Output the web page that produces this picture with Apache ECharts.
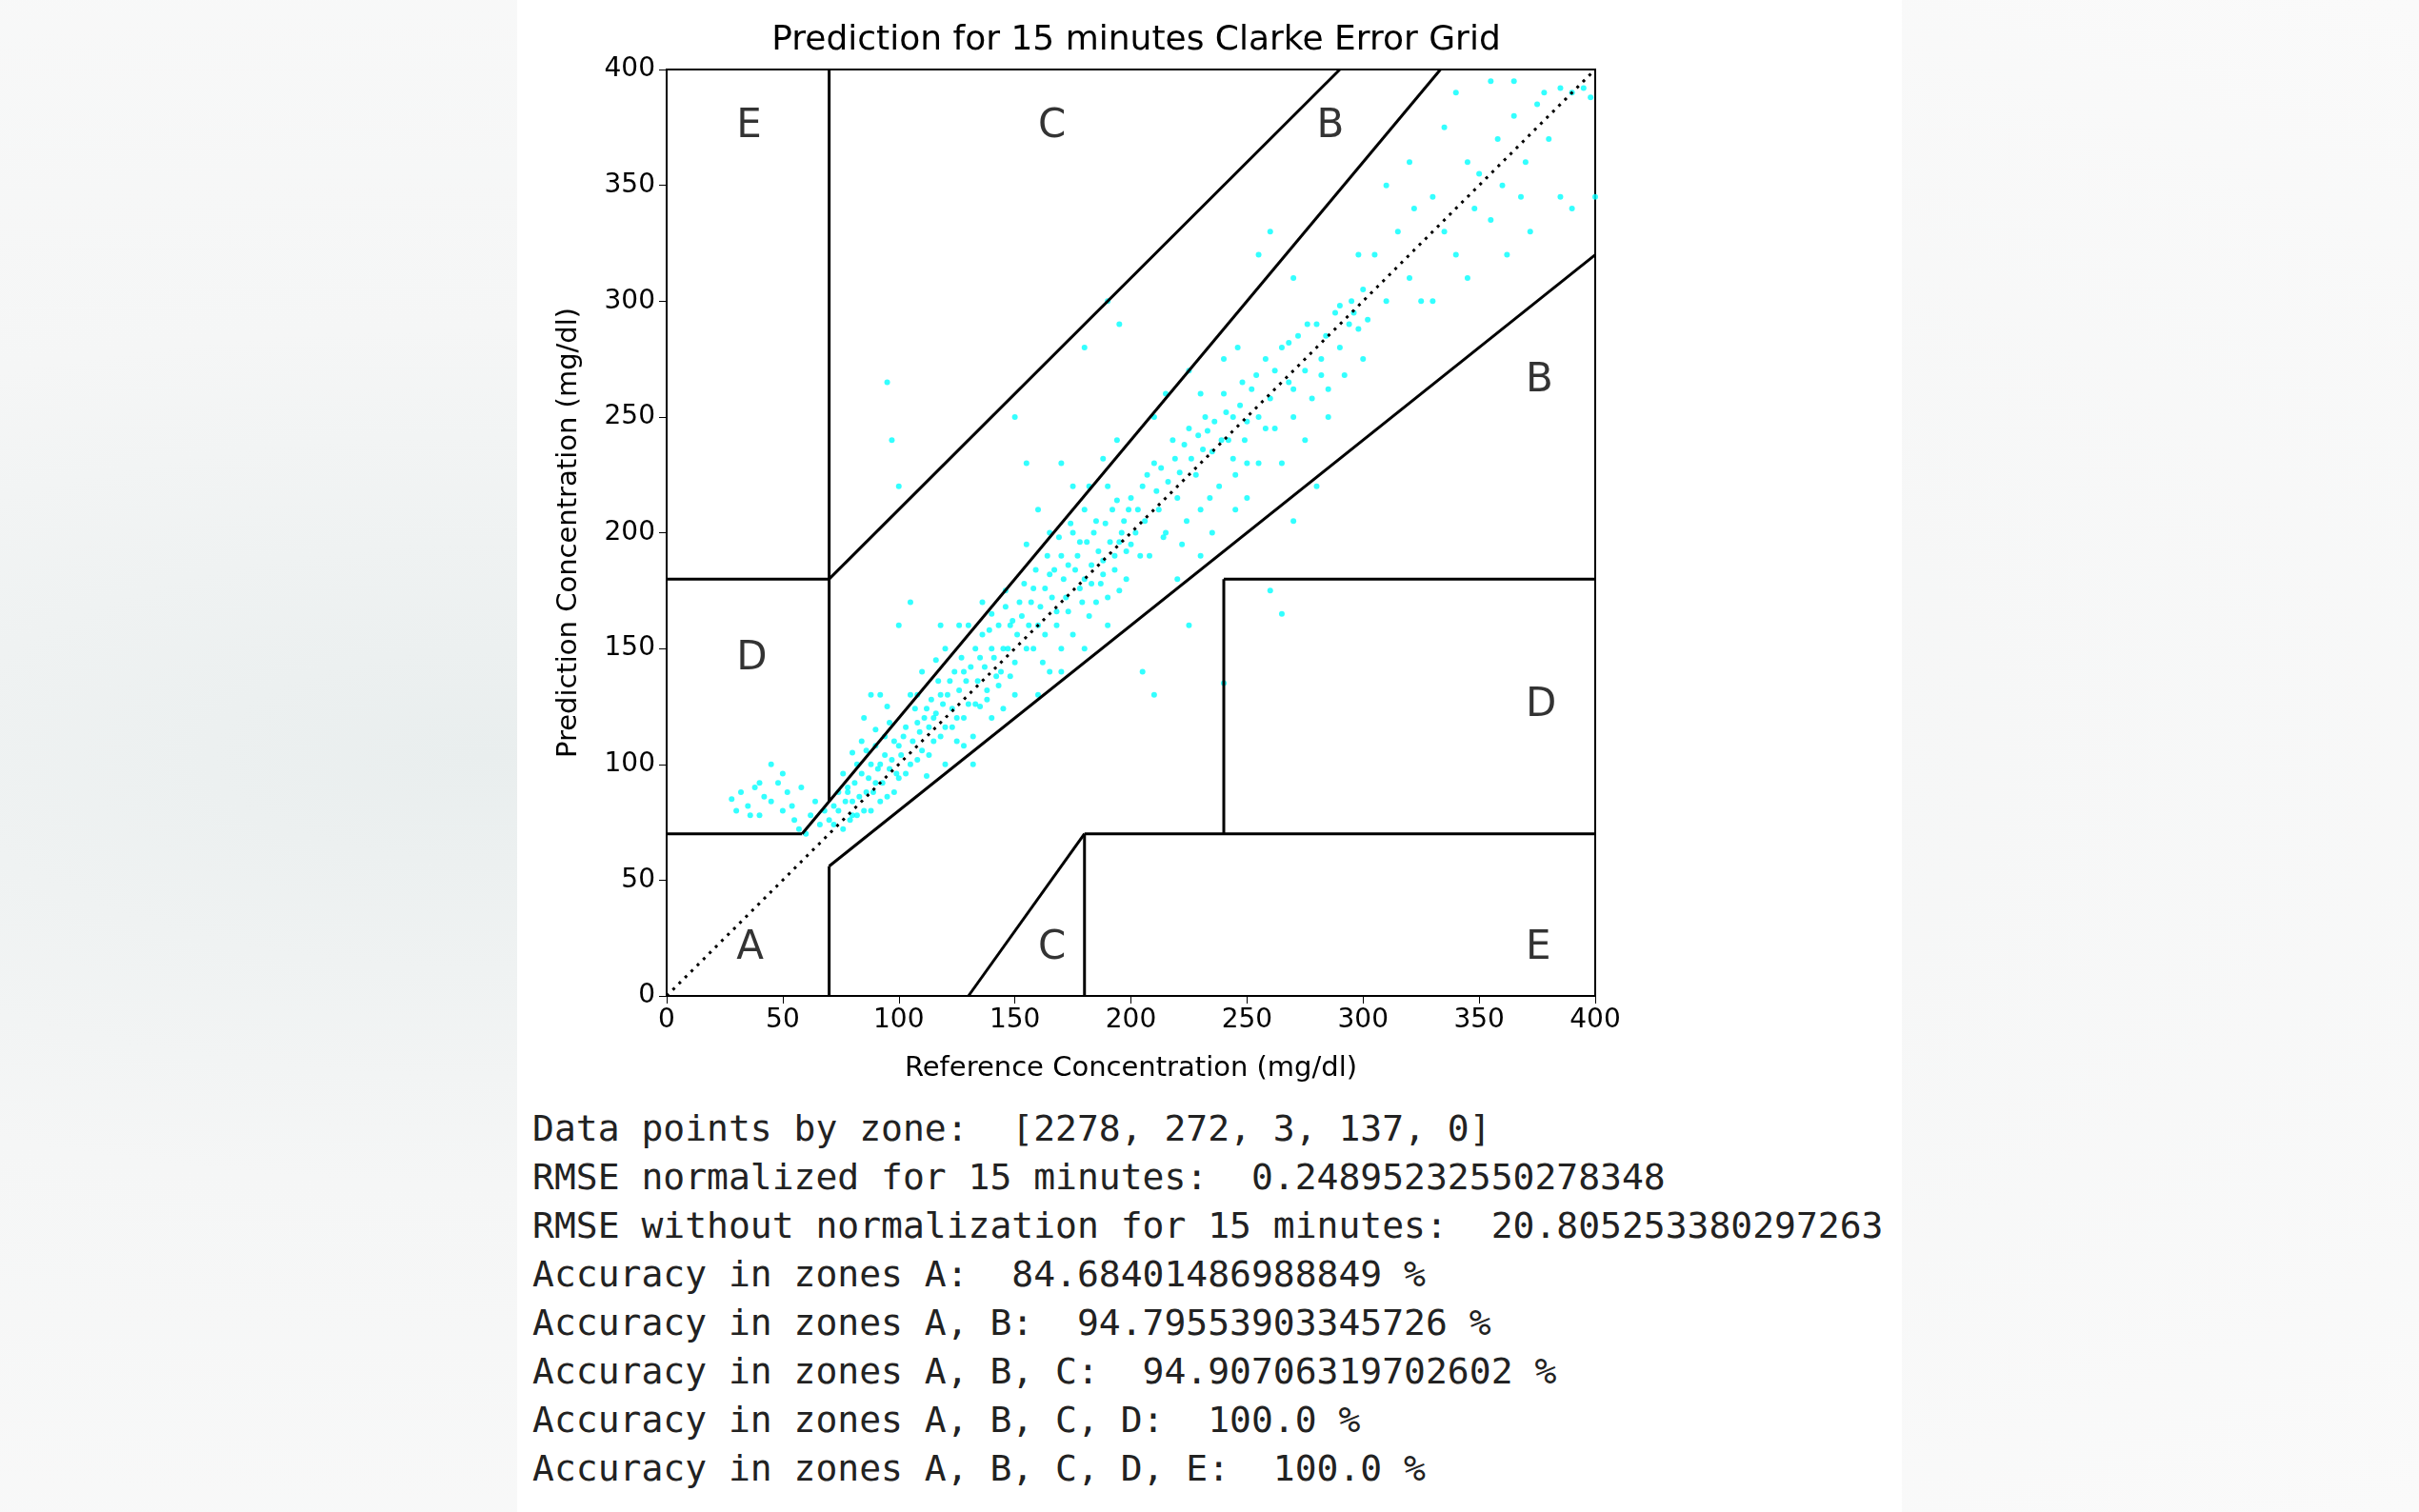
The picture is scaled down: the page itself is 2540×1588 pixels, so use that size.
<!DOCTYPE html>
<html>
<head>
<meta charset="utf-8">
<script src="https://cdn.jsdelivr.net/npm/echarts@6/dist/echarts.min.js"></script>
<style>
body{margin:0;width:2540px;height:1588px;background:radial-gradient(ellipse at 20% 50%,#e9eeee 0%,#f5f6f6 40%,#fafafa 100%);overflow:hidden;}
#panel{position:absolute;left:543px;top:0;width:1454px;height:1588px;background:#fff;}
#chart{position:absolute;left:0;top:0;width:2540px;height:1160px;}
#stats{position:absolute;left:559px;top:1160px;margin:0;font-family:"DejaVu Sans Mono",monospace;font-size:38px;line-height:51px;color:#222;}
</style>
</head>
<body>
<div id="panel"></div>
<div id="chart"></div>
<pre id="stats"></pre>
<script>
// 参考值 / 预测值
var refX = [28,30,32,35,38,40,42,45,48,50,52,55,57,60,62,64,66,68,45,50,36,58,54,40,
70,72,74,76,78,80,82,84,86,88,90,92,94,96,98,100,85,90,95,100,80,88,92,98,
102,105,108,110,112,115,118,120,122,125,128,130,132,135,138,140,142,145,148,150,105,110,115,120,125,130,135,140,145,150,112,120,128,100,105,118,
152,155,158,160,162,165,168,170,172,175,178,180,182,185,188,190,192,195,198,200,155,160,165,170,175,180,185,190,195,200,160,170,150,155,180,197,210,205,
202,205,208,210,212,215,218,220,222,225,228,230,232,235,238,240,242,245,248,250,215,225,235,245,250,220,230,240,255,225,
252,255,258,260,262,265,268,270,272,275,278,280,282,285,288,290,292,295,298,300,265,275,285,280,255,260,270,300,298,
302,305,310,315,320,322,325,330,335,340,345,348,350,355,358,360,362,365,368,370,372,375,378,380,385,390,395,398,400,390,385,345,310,320,335,340,355,365,330,
95,97,100,180,190,195,265,240,250,270,260];
var predY = [85,80,88,82,90,78,86,84,92,80,88,76,72,70,78,84,74,80,100,96,78,90,82,92,
76,82,88,72,90,84,78,96,88,100,92,84,104,98,110,94,120,115,125,108,105,80,100,88,
112,100,118,106,124,110,130,116,136,120,140,126,112,146,132,150,138,124,160,144,130,140,120,150,110,160,125,165,150,130,95,100,108,160,170,160,
170,150,176,160,144,182,166,190,172,156,196,180,164,205,188,172,210,196,180,215,195,130,140,150,200,210,170,220,175,195,210,230,250,230,150,205,130,140,
200,220,190,230,210,200,240,215,195,245,225,210,250,235,220,260,240,225,265,248,260,270,200,210,230,180,190,275,230,160,
262,250,275,258,245,280,265,250,285,270,258,290,275,262,295,280,268,300,288,275,230,240,250,220,320,330,310,305,320,
292,320,300,330,310,340,300,345,330,320,360,340,355,335,370,350,320,380,345,360,330,385,390,370,392,390,392,388,345,340,345,310,350,360,375,390,395,395,300,
265,240,220,280,300,290,165,135,215,205,175];

// 密集带的补充点
var refX2 = [74,77,79,81,83,85,87,89,91,93,95,97,99,76,82,86,90,94,96,84,78,72,80,88,92,
101,103,106,107,109,111,113,114,116,117,119,121,123,124,126,127,129,131,133,134,136,137,139,141,143,144,146,147,149,103,108,113,118,123,128,133,138,143,148,116,126,136,146,108,132,140,
151,153,154,156,157,159,161,163,164,166,167,169,171,173,174,176,177,179,181,183,184,186,187,189,191,193,194,196,199,158,163,168,173,178,183,188,193,198,182,188,194,175,165,170,190,
203,206,207,211,213,216,219,221,223,226,229,231,233,236,239,241,244,247,249,204,214,224,234,244,210,230,246,
254,262,268,276,284,290,296,258,270,282,294];
var predY2 = [80,84,76,92,86,80,94,88,98,92,86,102,96,96,100,106,108,112,118,110,88,74,78,130,130,
104,116,110,124,114,120,116,128,122,136,126,130,124,140,132,146,136,142,150,136,156,142,158,146,160,140,168,150,162,96,102,104,112,116,120,126,128,134,138,145,160,170,175,130,100,120,
156,164,178,160,170,184,168,176,190,172,184,198,180,186,204,184,190,170,196,186,200,192,178,204,196,184,214,200,210,150,156,160,166,176,178,182,190,192,220,232,240,220,200,140,160,
210,205,225,218,228,222,232,226,238,232,242,236,244,248,240,252,250,255,240,190,198,205,215,232,250,260,280,
268,270,282,290,285,298,295,245,262,268,290];

var points = refX.concat(refX2).map(function (x, i) { return [x, predY.concat(predY2)[i]]; });

// Clarke 网格线段
var segs = [
	[[0,175/3],[70,70]], [[175/3,400/1.2],[70,400]], [[70,70],[84,400]],
	[[0,70],[180,180]], [[70,290],[180,400]], [[70,70],[0,56]],
	[[70,400],[56,320]], [[180,180],[0,70]], [[180,400],[70,70]],
	[[240,240],[70,180]], [[240,400],[180,180]], [[130,180],[0,70]]
];
var zoneLabels = ['A','B','B','C','C','E','E','D','D'];
var zoneX = [30,370,280,160,160,30,370,30,370];
var zoneY = [15,260,370,370,15,370,15,140,120];

var series = [{
	type: 'scatter', data: points, symbolSize: 6, z: 2,
	itemStyle: {color: '#00ffff'}
}, {
	type: 'line', data: [[0,0],[400,400]], symbol: 'none', z: 3,
	lineStyle: {color: '#000', width: 3, type: [3,6]}
}];
segs.forEach(function (s) {
	series.push({
		type: 'line', symbol: 'none', z: 4,
		data: [[s[0][0], s[1][0]], [s[0][1], s[1][1]]],
		lineStyle: {color: '#000', width: 3}
	});
});
series.push({
	type: 'scatter', symbolSize: 0, z: 5,
	data: zoneX.map(function (x, i) { return {value: [x, zoneY[i]], name: zoneLabels[i]}; }),
	label: {show: true, position: [0, 8], align: 'left', verticalAlign: 'bottom', formatter: '{b}', fontSize: 42, color: '#000', fontFamily: 'DejaVu Sans'}
});

var myChart = echarts.init(document.getElementById('chart'));
myChart.setOption({
	animation: false,
	title: {
		text: 'Prediction for 15 minutes Clarke Error Grid', left: 1188, top: 20, textAlign: 'center',
		textStyle: {fontSize: 36, fontWeight: 'normal', color: '#000', fontFamily: 'DejaVu Sans'}
	},
	grid: {left: 700, top: 73, width: 975, height: 973, show: true, borderColor: '#000', borderWidth: 2},
	xAxis: {
		type: 'value', min: 0, max: 400, interval: 50,
		name: 'Reference Concentration (mg/dl)', nameLocation: 'middle', nameGap: 62,
		nameTextStyle: {fontSize: 29, color: '#000', fontFamily: 'DejaVu Sans'},
		axisLine: {lineStyle: {color: '#000', width: 2}},
		axisTick: {inside: false, length: 8, lineStyle: {color: '#000'}},
		axisLabel: {fontSize: 28, color: '#000', fontFamily: 'DejaVu Sans', margin: 12},
		splitLine: {show: false}
	},
	yAxis: {
		type: 'value', min: 0, max: 400, interval: 50,
		name: 'Prediction Concentration (mg/dl)', nameLocation: 'middle', nameGap: 88,
		nameTextStyle: {fontSize: 29, color: '#000', fontFamily: 'DejaVu Sans'},
		axisLine: {show: true, lineStyle: {color: '#000', width: 2}},
		axisTick: {show: true, length: 8, lineStyle: {color: '#000'}},
		axisLabel: {fontSize: 28, color: '#000', fontFamily: 'DejaVu Sans', margin: 12},
		splitLine: {show: false}
	},
	series: series
});

var statLines = [
	'Data points by zone:  [2278, 272, 3, 137, 0]',
	'RMSE normalized for 15 minutes:  0.24895232550278348',
	'RMSE without normalization for 15 minutes:  20.805253380297263',
	'Accuracy in zones A:  84.68401486988849 %',
	'Accuracy in zones A, B:  94.79553903345726 %',
	'Accuracy in zones A, B, C:  94.90706319702602 %',
	'Accuracy in zones A, B, C, D:  100.0 %',
	'Accuracy in zones A, B, C, D, E:  100.0 %'
];
document.getElementById('stats').textContent = statLines.join('\n');
</script>
</body>
</html>
